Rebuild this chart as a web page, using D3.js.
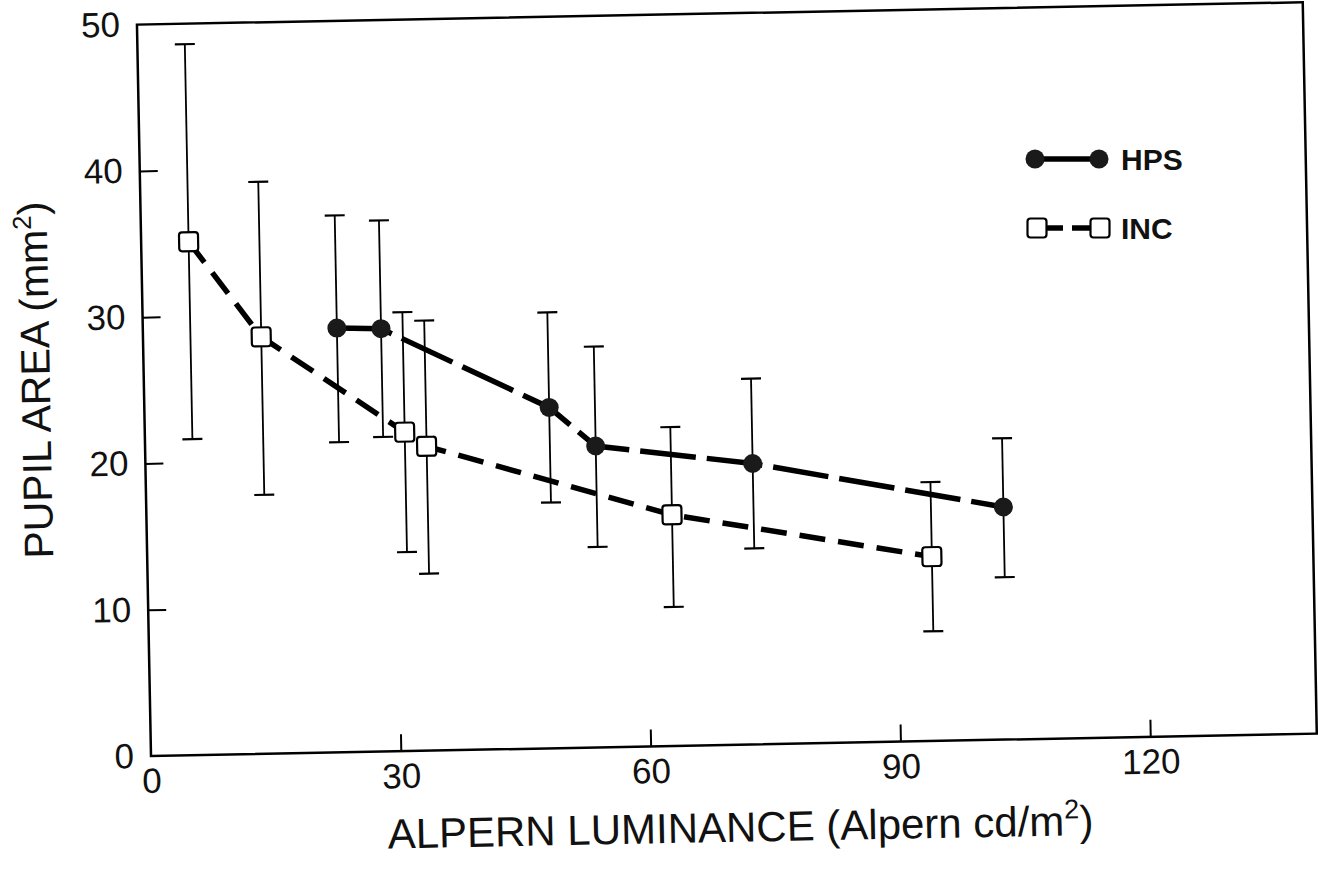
<!DOCTYPE html>
<html><head><meta charset="utf-8">
<script src="https://cdn.jsdelivr.net/npm/d3@7"></script>
<style>body{margin:0;background:#fff}</style>
</head><body><svg id="c" width="1318" height="882"></svg>
<script>
// HPS series (filled circles, solid line)
const hpsX  = [23.3, 28.6, 48.6, 54.1, 72.9, 102.9];
const hpsY  = [29.0, 28.9, 23.3, 20.6, 19.2, 15.9];
const hpsHi = [36.7, 36.3, 29.8, 27.4, 25.0, 20.6];
const hpsLo = [21.2, 21.5, 16.8, 13.7, 13.4, 11.1];
// INC series (open squares, dashed line)
const incX  = [5.7, 14.2, 31.2, 33.8, 63.1, 94.2];
const incY  = [35.1, 28.5, 21.8, 20.8, 15.8, 12.6];
const incHi = [48.6, 39.1, 30.0, 29.4, 21.8, 17.7];
const incLo = [21.6, 17.7, 13.6, 12.1, 9.5, 7.5];
const xTicks = [0, 30, 60, 90, 120];
const yTicks = [0, 10, 20, 30, 40, 50];
const seriesNames = ["HPS", "INC"];

const FONT = "'Liberation Sans', Arial, Helvetica, sans-serif";
const svg = d3.select("#c");
const x = d3.scaleLinear().domain([0, 140]).range([151, 1317]);
const y = d3.scaleLinear().domain([0, 50]).range([756, 24.5]);

const g = svg.append("g").attr("transform", "rotate(-1.1,151,756)");

// axes
const xAxis = d3.axisBottom(x).tickValues(xTicks).tickSizeInner(-17).tickSizeOuter(0).tickPadding(12).tickFormat(d3.format("d"));
const yAxis = d3.axisLeft(y).tickValues(yTicks).tickSizeInner(-18).tickSizeOuter(0).tickPadding(17).tickFormat(d3.format("d"));
const gx = g.append("g").attr("transform", `translate(0,${y(0)})`).call(xAxis);
const gy = g.append("g").attr("transform", `translate(${x(0)},0)`).call(yAxis);
[gx, gy].forEach(a => {
  a.select(".domain").remove();
  a.selectAll(".tick line").attr("stroke", "#000").attr("stroke-width", 2);
  a.selectAll(".tick text").attr("fill", "#111").style("font-family", FONT).style("font-size", "35px");
});
gx.selectAll(".tick").filter(d => d === 0).select("line").remove();
gy.selectAll(".tick").filter(d => d === 0 || d === 50).select("line").remove();

// frame
g.append("rect").attr("x", x(0)).attr("y", y(50)).attr("width", x(140) - x(0)).attr("height", y(0) - y(50))
  .attr("fill", "none").attr("stroke", "#000").attr("stroke-width", 2.5);

// error bars
function errorBars(xs, lo, hi) {
  const eb = g.append("g").attr("stroke", "#000");
  xs.forEach((v, i) => {
    eb.append("line").attr("x1", x(v)).attr("x2", x(v)).attr("y1", y(lo[i])).attr("y2", y(hi[i])).attr("stroke-width", 1.8);
    [lo[i], hi[i]].forEach(e => eb.append("line").attr("x1", x(v) - 10).attr("x2", x(v) + 10).attr("y1", y(e)).attr("y2", y(e)).attr("stroke-width", 2.2));
  });
}
errorBars(incX, incLo, incHi);
errorBars(hpsX, hpsLo, hpsHi);

const line = d3.line().x(d => x(d[0])).y(d => y(d[1]));
g.append("path").datum(incX.map((v, i) => [v, incY[i]])).attr("d", line)
  .attr("fill", "none").attr("stroke", "#000").attr("stroke-width", 5.5).attr("stroke-dasharray", "26,13");
g.append("path").datum(hpsX.map((v, i) => [v, hpsY[i]])).attr("d", line)
  .attr("fill", "none").attr("stroke", "#000").attr("stroke-width", 5.5).attr("stroke-dasharray", "56,11");

// markers
g.selectAll(".sq").data(incX).enter().append("rect")
  .attr("x", (d) => x(d) - 9.5).attr("y", (d, i) => y(incY[i]) - 9.5).attr("width", 19).attr("height", 19).attr("rx", 3)
  .attr("fill", "#fff").attr("stroke", "#000").attr("stroke-width", 2.2);
g.selectAll(".ci").data(hpsX).enter().append("circle")
  .attr("cx", d => x(d)).attr("cy", (d, i) => y(hpsY[i])).attr("r", 9.5).attr("fill", "#1a1a1a");

// axis titles
const xt = g.append("text").attr("x", 739).attr("y", 853).attr("text-anchor", "middle")
  .style("font-family", FONT).style("font-size", "42px").attr("fill", "#111");
xt.append("tspan").text("ALPERN LUMINANCE (Alpern cd/m");
xt.append("tspan").text("2").attr("dy", -17).style("font-size", "27px");
xt.append("tspan").text(")").attr("dy", 17);

const yt = g.append("text").attr("transform", "translate(57,378) rotate(-90)").attr("text-anchor", "middle")
  .style("font-family", FONT).style("font-size", "41px").attr("fill", "#111");
yt.append("tspan").text("PUPIL AREA (mm");
yt.append("tspan").text("2").attr("dy", -16).style("font-size", "26px");
yt.append("tspan").text(")").attr("dy", 16);

// legend
const lg = svg.append("g");
lg.append("line").attr("x1", 1043).attr("x2", 1091).attr("y1", 159).attr("y2", 159).attr("stroke", "#000").attr("stroke-width", 5.5);
[1035, 1099].forEach(cx => lg.append("circle").attr("cx", cx).attr("cy", 159).attr("r", 9.5).attr("fill", "#1a1a1a"));
lg.append("text").attr("x", 1121).attr("y", 170).text(seriesNames[0]).style("font-family", FONT).style("font-size", "30px").style("font-weight", "bold").attr("fill", "#111");
[[1047, 1063], [1072, 1090]].forEach(s => lg.append("line").attr("x1", s[0]).attr("x2", s[1]).attr("y1", 228).attr("y2", 228).attr("stroke", "#000").attr("stroke-width", 5.5));
[1037, 1100].forEach(cx => lg.append("rect").attr("x", cx - 9.5).attr("y", 228 - 9.5).attr("width", 19).attr("height", 19).attr("rx", 3).attr("fill", "#fff").attr("stroke", "#000").attr("stroke-width", 2.2));
lg.append("text").attr("x", 1121).attr("y", 239).text(seriesNames[1]).style("font-family", FONT).style("font-size", "30px").style("font-weight", "bold").attr("fill", "#111");
</script></body></html>
